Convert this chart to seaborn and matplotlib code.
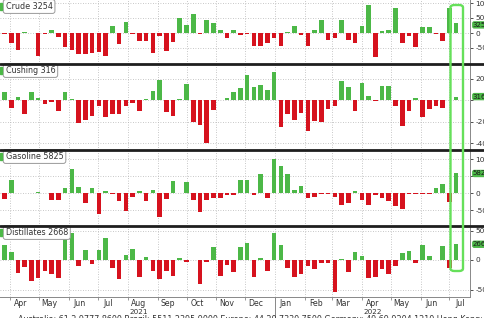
import numpy as np
import pandas as pd
import matplotlib
matplotlib.use("Agg")
import matplotlib.pyplot as plt
import matplotlib.dates as mdates
import seaborn as sns
from matplotlib.patches import FancyBboxPatch, Rectangle
from matplotlib.lines import Line2D

# ---------------- data (weekly changes, thousand barrels) ----------------
dates = pd.date_range("2021-03-26", "2022-07-08", freq="W-FRI")

crude = [-300, -3300, -5500, 400, -100, -7700, -200, 1000, -1400, -4800,
         -5500, -6900, -7000, -6700, -6400, -7500, 2300, -3700, 3700, -300,
         -2800, -2800, -6700, -1100, -6100, -3100, 4900, 2700, 6300, -300,
         4500, 3500, 1100, -1700, 900, -500, -200, -4200, -4200, -3300,
         -1700, -4200, 400, 2500, -800, -4400, 1000, 4500, -2200, -1600,
         4400, -2200, -3300, 2500, 9400, -8000, 600, 1100, 8500, -3300,
         -1000, -4800, 1900, 1900, -400, -2600, 8200, 3254]

cushing = [700, -700, 300, -1330, 700, 200, -400, -150, -1000, 700,
           60, -2170, -1900, -1450, -600, -1600, -1330, -1270, -530, -300,
           -1000, 50, 800, 1900, -1100, -1500, 50, 1500, -2000, -2300,
           -4000, -950, -30, 150, 700, 1100, 2350, 1250, 1400, 950,
           2570, -2500, -1330, -1860, -1180, -2850, -1920, -2080, -800, -560,
           1800, 1180, -1000, 1600, 340, -80, 1330, 1330, -560, -2400,
           -1000, 190, -1600, -840, -530, -780, -30, 316]

gasoline = [-1760, 4000, 100, 100, 100, 500, 150, -2000, -2000, 1500,
            7000, 1800, -2750, 1500, -6100, 800, -100, -2150, -5200, -1200,
            600, -2150, 1100, -6900, -1800, 3500, 50, 3300, -2000, -5400,
            -1950, -1450, -1300, -500, -500, 4000, 3800, -500, 5600, -1300,
            10200, 8000, 5700, 1100, 2000, -1300, -1000, -300, -300, -1200,
            -3400, -2900, 800, -2000, -3400, -500, -1500, -2150, -3600, -4700,
            -200, -200, -200, -200, 1600, 2800, -2500, 5825]

distillates = [2500, 1400, -2150, -1130, -3500, -3000, -1800, -2370, -3100, 3700,
               4500, -1000, 1750, -730, 1700, 3700, -1400, -3200, 850, 1860,
               -2800, 570, -1800, -3200, -1800, -2650, 400, -300, 30, -4000,
               -400, 2200, -2650, -850, -2000, 2200, 2800, -2900, 400, -1800,
               4600, 2600, -1400, -2800, -2400, -960, -1500, -560, -560, -5400,
               100, -2100, 1400, 750, -3000, -2800, -1500, -2400, -960, 1130,
               1600, -560, 2500, 600, 50, 2450, -1300, 2668]

names = ["Crude", "Cushing", "Gasoline", "Distillates"]
last_labels = ["3254", "316", "5825", "2668"]
yticks_list = [[-5000, 0, 5000, 10000], [-4000, -2000, 0, 2000],
               [-5000, 0, 5000, 10000], [-5000, 0, 5000]]
# tick labels hidden behind the last-value box
hidden_ticks = [[], [0], [5000], []]
month_names = ["Apr", "May", "Jun", "Jul", "Aug", "Sep", "Oct", "Nov", "Dec",
               "Jan", "Feb", "Mar", "Apr", "May", "Jun", "Jul"]
year_labels = ["2021", "2022"]
footer = ("Australia: 61 2 9777 8600 Brazil: 5511 2395 9000 Europe: 44 20 7330 7500 "
          "Germany: 49 69 9204 1210 Hong Kong: 852 2977 6000")

GREEN = "#4cb847"
RED = "#d6121e"
HILITE = "#66e05a"
TXT = "#333333"

# ---------------- figure ----------------
sns.set_theme(style="white")
plt.rcParams["font.family"] = ["DejaVu Sans"]
W, H = 485, 318
fig = plt.figure(figsize=(W / 100, H / 100), dpi=100)
fig.patch.set_facecolor("white")


def fy(p):
    return 1 - p / H


# panel geometry in pixels: (top, bottom, zero-line y, units per pixel)
geom = [(0, 64, 33, 5000 / 15), (64, 150, 100, 2000 / 21.5),
        (150, 226, 193.3, 10000 / 34), (226, 297, 260, 5000 / 29.5)]
label_shift = [-1.2, 0, 0, 0]   # small vertical nudge (points) of the value boxes

xnum = mdates.date2num(dates)
xl = mdates.date2num(pd.Timestamp("2021-03-21 08:00"))
xr = mdates.date2num(pd.Timestamp("2022-07-22 08:00"))
month_starts = pd.date_range("2021-04-01", "2022-07-01", freq="MS")
month_mids = month_starts + pd.Timedelta(days=11)

series = [crude, cushing, gasoline, distillates]
axes = []
for i, (name, vals, lab, yt, hid, (top, bot, zero, upp)) in enumerate(
        zip(names, series, last_labels, yticks_list, hidden_ticks, geom)):
    ax = fig.add_axes([0, fy(bot), 470 / W, (bot - top) / H])
    axes.append(ax)
    df = pd.DataFrame({"x": xnum, "v": vals})
    df["s"] = np.where(df["v"] >= 0, "up", "down")
    sns.barplot(data=df, x="x", y="v", hue="s", palette={"up": GREEN, "down": RED},
                native_scale=True, dodge=False, legend=False, width=0.68,
                errorbar=None, saturation=1, linewidth=0, ax=ax)
    ax.set_xlim(xl, xr)
    ax.set_ylim(-(bot - zero) * upp, (zero - top) * upp)
    ax.set_xlabel("")
    ax.set_ylabel("")
    ax.set_facecolor("white")
    # grid
    ax.set_yticks(yt)
    ax.yaxis.tick_right()
    ax.tick_params(axis="y", which="major", labelsize=5.3, colors=TXT, length=2.5,
                   width=0.6, pad=1.5, right=True, left=False)
    ax.set_yticklabels(["" if v in hid else str(v) for v in yt])
    ax.grid(axis="y", linestyle=(0, (1, 2)), color="#b5b5b5", lw=0.6)
    for ms in month_starts:
        ax.axvline(mdates.date2num(ms), linestyle=(0, (1, 2)), color="#b5b5b5",
                   lw=0.6, zorder=0)
    for s in ["left", "top", "bottom"]:
        ax.spines[s].set_visible(False)
    ax.spines["right"].set_color("#888888")
    ax.spines["right"].set_linewidth(0.7)
    ax.set_xticks(mdates.date2num(month_starts))
    ax.set_xticklabels([])
    ax.tick_params(axis="x", which="major", length=0)
    # name box
    ax.text(0.012, 1 - 6.5 / (bot - top), f"{name} {lab}", transform=ax.transAxes,
            fontsize=5.8, color=TXT, va="center", ha="left",
            bbox=dict(boxstyle="round,pad=0.3,rounding_size=0.3", fc="white",
                      ec="#9a9a9a", lw=0.7), zorder=10)
    ax.add_patch(Rectangle((0.001, 1 - 10 / (bot - top)), 0.004, 7 / (bot - top),
                           transform=ax.transAxes, color=GREEN, zorder=11,
                           clip_on=False))
    # last value box on right axis
    ax.annotate(lab, xy=(1.006, vals[-1]), xycoords=ax.get_yaxis_transform(),
                xytext=(0, label_shift[i]), textcoords="offset points",
                fontsize=5.0, color="#1a1a1a", va="center", ha="left",
                bbox=dict(boxstyle="round,pad=0.1,rounding_size=0.3", fc=GREEN,
                          ec="none"), zorder=12, annotation_clip=False)

# bottom axis labels
axb = axes[-1]
axb.spines["bottom"].set_visible(True)
axb.spines["bottom"].set_color("#888888")
axb.spines["bottom"].set_linewidth(0.7)
axb.tick_params(axis="x", which="major", length=2.5, width=0.6, color="#888888",
                bottom=True)
axb.set_xticks(mdates.date2num(month_mids), minor=True)
axb.set_xticklabels(month_names, minor=True)
axb.tick_params(axis="x", which="minor", length=0, labelsize=5.6, colors=TXT, pad=1.5)

# year labels
for lbl, d in zip(year_labels, ["2021-08-12", "2022-04-12"]):
    xd = mdates.date2num(pd.Timestamp(d))
    fig.text(axb.transData.transform((xd, 0))[0] / W, fy(312.5), lbl, fontsize=5.2,
             color=TXT, ha="center", va="center")
jan = mdates.date2num(pd.Timestamp("2022-01-01"))
axb.plot([jan, jan], [0, -0.32], transform=axb.get_xaxis_transform(),
         color="#888888", lw=0.7, clip_on=False)

# separators
for yy in [64, 150, 226]:
    fig.add_artist(Line2D([0, 1], [fy(yy), fy(yy)], transform=fig.transFigure,
                          color="#1e1e1e", lw=2.0))

# highlight box
fig.add_artist(FancyBboxPatch((450.5 / W, fy(271)), 12.5 / W, (271 - 5) / H,
                              boxstyle="round,pad=0,rounding_size=0.008",
                              transform=fig.transFigure, ec=HILITE, fc="none",
                              lw=1.7, zorder=20))

# footer (partly cut off at the bottom edge, as in the source)
fig.text(18 / W, fy(319.5), footer, fontsize=5.8, color=TXT, ha="left", va="center")

fig.savefig("out.png", dpi=100)
